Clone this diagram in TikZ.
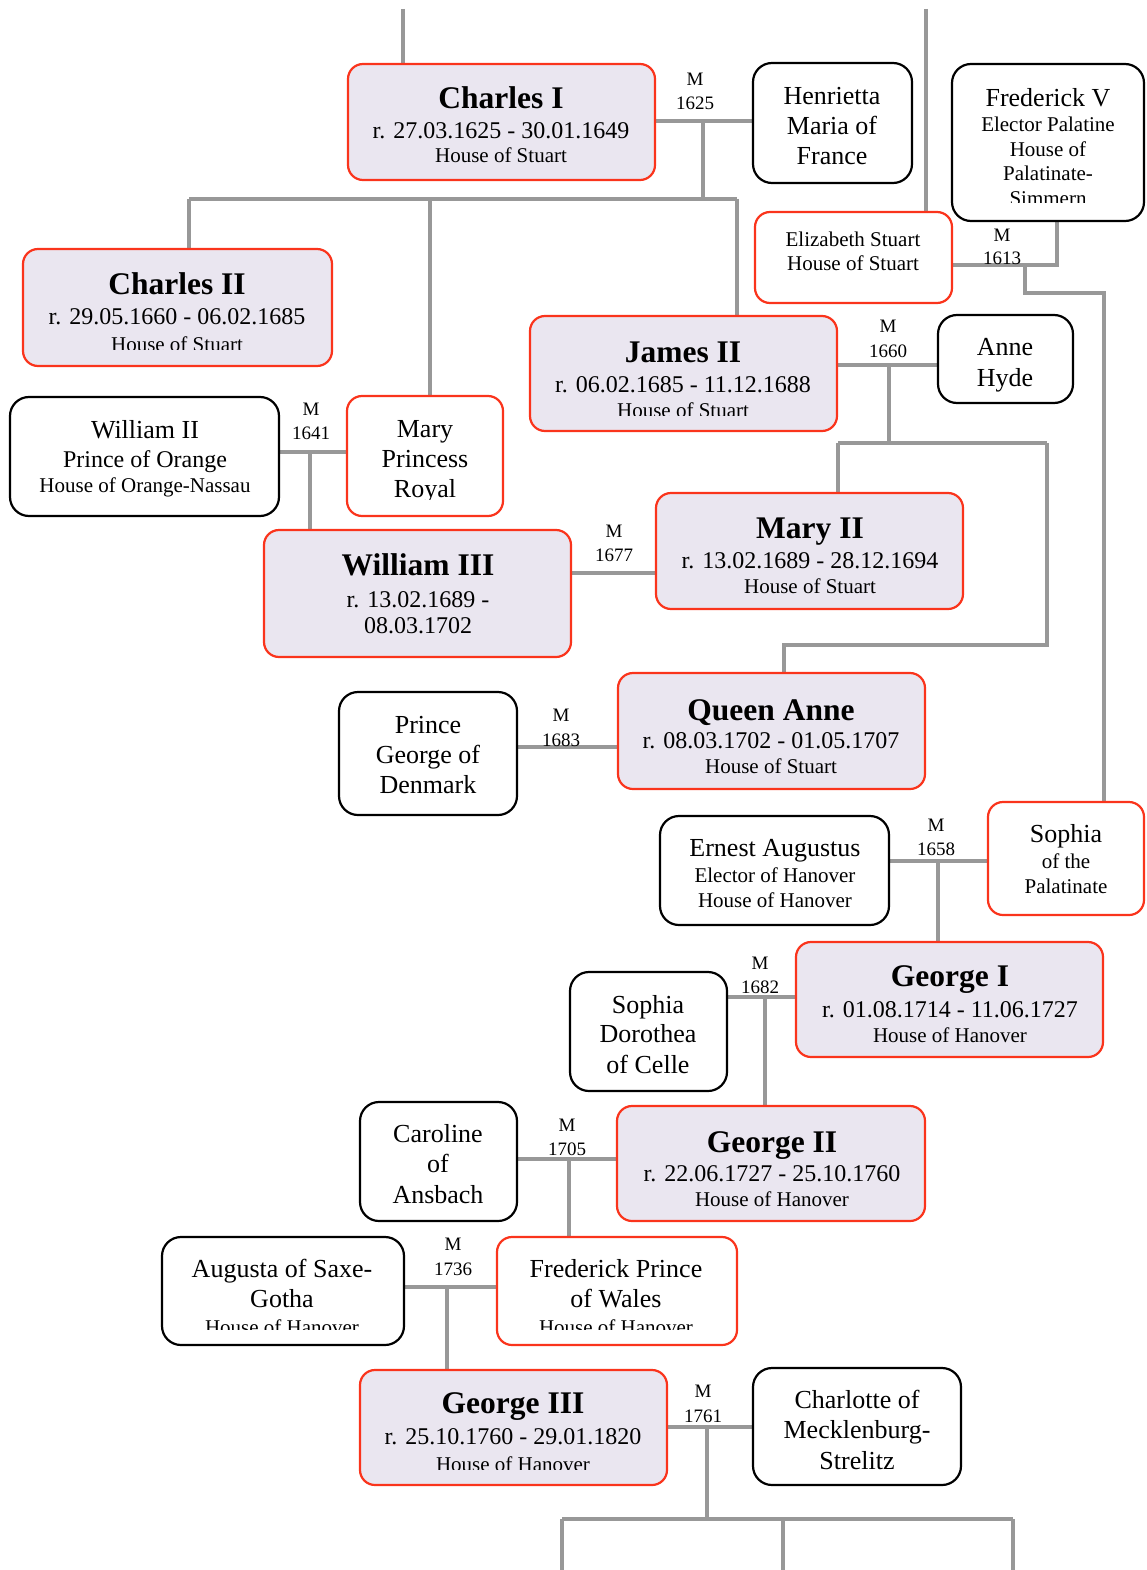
\documentclass[tikz,border=0pt]{standalone}
\usepackage{fontspec}
\setmainfont{Liberation Serif}
\usetikzlibrary{backgrounds}
\definecolor{redc}{RGB}{250,52,28}
\definecolor{lav}{RGB}{234,230,240}
\definecolor{linec}{RGB}{152,152,152}
\newcommand\fname{\fontsize{31.5}{36}\selectfont\bfseries}
\newcommand\fdate{\fontsize{24}{28}\selectfont}
\newcommand\fhouse{\fontsize{21}{25}\selectfont}
\newcommand\fbig{\fontsize{26}{30}\selectfont}
\newcommand\flab{\fontsize{19}{22}\selectfont}
\newcommand\famperson[6]{\node[#2, anchor=north west, minimum width=#5-#3, minimum height=#6-#4] (#1) at (#3,#4) {};}
\newcommand\famtext[3]{\begin{scope}\clip (#1.north west) rectangle (#1.east |- 0,#2); #3 \end{scope}}
\newcommand\tline[5]{\node[txt, font=#4] (#1) at (#2,#3) {#5};}
\tikzset{
  boxbase/.style={line width=2.2pt, inner sep=0pt, outer sep=0pt},
  royal/.style={boxbase, draw=redc, fill=lav, rounded corners=15pt},
  kin/.style={boxbase, draw=redc, fill=white, rounded corners=15pt},
  spouse/.style={boxbase, draw=black, fill=white, rounded corners=19pt},
  marr/.style={draw=linec, line width=3.8pt},
  desc/.style={draw=linec, line width=3.3pt},
  txt/.style={anchor=base, inner sep=0pt, outer sep=0pt, text=black},
}
\begin{document}
\begin{tikzpicture}[x=1pt, y=-1pt]
\useasboundingbox (0,0) rectangle (1146,1570);

% ---------- boxes ----------
\famperson{charlesI}{royal}{348}{64}{655}{180}
\famperson{henrietta}{spouse}{753}{63}{912}{183}
\famperson{frederickV}{spouse}{952}{64}{1144}{221}
\famperson{elizabeth}{kin}{755}{212}{952}{303}
\famperson{charlesII}{royal}{23}{249}{332}{366}
\famperson{jamesII}{royal}{530}{316}{837}{431}
\famperson{anneHyde}{spouse}{938}{315}{1073}{403}
\famperson{williamII}{spouse}{10}{397}{279}{516}
\famperson{maryPR}{kin}{347}{396}{503}{516}
\famperson{williamIII}{royal}{264}{530}{571}{657}
\famperson{maryII}{royal}{656}{493}{963}{609}
\famperson{queenAnne}{royal}{618}{673}{925}{789}
\famperson{princeGeorge}{spouse}{339}{692}{517}{815}
\famperson{ernest}{spouse}{660}{816}{889}{925}
\famperson{sophia}{kin}{988}{802}{1144}{915}
\famperson{georgeI}{royal}{796}{942}{1103}{1057}
\famperson{sophiaDorothea}{spouse}{570}{972}{727}{1091}
\famperson{caroline}{spouse}{360}{1102}{517}{1221}
\famperson{georgeII}{royal}{617}{1106}{925}{1221}
\famperson{augusta}{spouse}{162}{1237}{404}{1345}
\famperson{frederickPW}{kin}{497}{1237}{737}{1345}
\famperson{georgeIII}{royal}{360}{1370}{667}{1485}
\famperson{charlotte}{spouse}{753}{1368}{961}{1485}

% ---------- connector points ----------
\coordinate (top1) at (403,9);
\coordinate (top2) at (926,9);
\coordinate (m1625) at (703,121);
\coordinate (b1625) at (703,199);
\coordinate (b1625l) at (189,199);
\coordinate (b1625m) at (430,199);
\coordinate (b1625r) at (737,199);
\coordinate (m1613) at (1057,265);
\coordinate (d1613a) at (1025,265);
\coordinate (d1613b) at (1025,293);
\coordinate (d1613c) at (1104,293);
\coordinate (m1660) at (889,365);
\coordinate (b1660) at (889,443);
\coordinate (b1660l) at (838,443);
\coordinate (b1660r) at (1047,443);
\coordinate (b1660d) at (1047,645);
\coordinate (b1660e) at (784,645);
\coordinate (m1641) at (310,452);
\coordinate (m1677) at (613,573);
\coordinate (m1683) at (567,747);
\coordinate (m1658) at (938,861);
\coordinate (m1682) at (765,997);
\coordinate (m1705) at (569,1159);
\coordinate (m1736) at (447,1287);
\coordinate (m1761) at (707,1427);
\coordinate (b1761) at (707,1519);
\coordinate (b1761l) at (562,1519);
\coordinate (b1761m) at (783,1519);
\coordinate (b1761r) at (1013,1519);
\coordinate (e1) at (562,1570);
\coordinate (e2) at (783,1570);
\coordinate (e3) at (1013,1570);

% ---------- connectors (behind boxes) ----------
\begin{pgfonlayer}{background}
\path[desc] (top1) -- (charlesI.north -| top1);
\path[desc] (top2) -- (elizabeth.north -| top2);
\path[marr] (charlesI.east |- m1625) -- (henrietta.west |- m1625);
\path[desc] (m1625) -- (b1625);
\path[desc] (b1625l) -- (b1625r);
\path[desc] (b1625l) -- (charlesII.north -| b1625l);
\path[desc] (b1625m) -- (maryPR.north -| b1625m);
\path[desc] (b1625r) -- (jamesII.north -| b1625r);
\path[marr] (elizabeth.east |- m1613) -- (m1613) -- (frederickV.south -| m1613);
\path[desc] (d1613a) -- (d1613b) -- (d1613c) -- (sophia.north -| d1613c);
\path[marr] (jamesII.east |- m1660) -- (anneHyde.west |- m1660);
\path[desc] (m1660) -- (b1660);
\path[desc] (b1660l) -- (b1660r);
\path[desc] (b1660l) -- (maryII.north -| b1660l);
\path[desc] (b1660r) -- (b1660d) -- (b1660e) -- (queenAnne.north -| b1660e);
\path[marr] (williamII.east |- m1641) -- (maryPR.west |- m1641);
\path[desc] (m1641) -- (williamIII.north -| m1641);
\path[marr] (williamIII.east |- m1677) -- (maryII.west |- m1677);
\path[marr] (princeGeorge.east |- m1683) -- (queenAnne.west |- m1683);
\path[marr] (ernest.east |- m1658) -- (sophia.west |- m1658);
\path[desc] (m1658) -- (georgeI.north -| m1658);
\path[marr] (sophiaDorothea.east |- m1682) -- (georgeI.west |- m1682);
\path[desc] (m1682) -- (georgeII.north -| m1682);
\path[marr] (caroline.east |- m1705) -- (georgeII.west |- m1705);
\path[desc] (m1705) -- (frederickPW.north -| m1705);
\path[marr] (augusta.east |- m1736) -- (frederickPW.west |- m1736);
\path[desc] (m1736) -- (georgeIII.north -| m1736);
\path[marr] (georgeIII.east |- m1761) -- (charlotte.west |- m1761);
\path[desc] (m1761) -- (b1761);
\path[desc] (b1761l) -- (b1761r);
\path[desc] (b1761l) -- (e1);
\path[desc] (b1761m) -- (e2);
\path[desc] (b1761r) -- (e3);
\end{pgfonlayer}

% ---------- texts ----------
\famtext{charlesI}{180}{
 \tline{t1a}{501}{109}{\fname}{Charles I}
 \tline{t1b}{501}{139}{\fdate}{r. 27.03.1625 - 30.01.1649}
 \tline{t1c}{501}{163}{\fhouse}{House of Stuart}}
\famtext{henrietta}{183}{
 \tline{t2a}{832}{105}{\fbig}{Henrietta}
 \tline{t2b}{832}{135}{\fbig}{Maria of}
 \tline{t2c}{832}{165}{\fbig}{France}}
\famtext{frederickV}{203}{
 \tline{t3a}{1048}{107}{\fbig}{Frederick V}
 \tline{t3b}{1048}{132}{\fhouse}{Elector Palatine}
 \tline{t3c}{1048}{157}{\fhouse}{House of}
 \tline{t3d}{1048}{181}{\fhouse}{Palatinate-}
 \tline{t3e}{1048}{206}{\fhouse}{Simmern}}
\famtext{elizabeth}{303}{
 \tline{t4a}{853}{247}{\fhouse}{Elizabeth Stuart}
 \tline{t4b}{853}{270}{\fhouse}{House of Stuart}}
\famtext{charlesII}{349}{
 \tline{t5a}{177}{294}{\fname}{Charles II}
 \tline{t5b}{177}{324}{\fdate}{r. 29.05.1660 - 06.02.1685}
 \tline{t5c}{177}{351}{\fhouse}{House of Stuart}}
\famtext{jamesII}{415}{
 \tline{t6a}{683}{362}{\fname}{James II}
 \tline{t6b}{683}{392}{\fdate}{r. 06.02.1685 - 11.12.1688}
 \tline{t6c}{683}{417}{\fhouse}{House of Stuart}}
\famtext{anneHyde}{403}{
 \tline{t7a}{1005}{355}{\fbig}{Anne}
 \tline{t7b}{1005}{386}{\fbig}{Hyde}}
\famtext{williamII}{516}{
 \tline{t8a}{145}{438}{\fbig}{William II}
 \tline{t8b}{145}{467}{\fdate}{Prince of Orange}
 \tline{t8c}{145}{492}{\fhouse}{House of Orange-Nassau}}
\famtext{maryPR}{499}{
 \tline{t9a}{425}{437}{\fbig}{Mary}
 \tline{t9b}{425}{467}{\fbig}{Princess}
 \tline{t9c}{425}{497}{\fbig}{Royal}}
\famtext{williamIII}{657}{
 \tline{t10a}{418}{575}{\fname}{William III}
 \tline{t10b}{418}{607}{\fdate}{r. 13.02.1689 -}
 \tline{t10c}{418}{633}{\fdate}{08.03.1702}}
\famtext{maryII}{609}{
 \tline{t11a}{810}{538}{\fname}{Mary II}
 \tline{t11b}{810}{568}{\fdate}{r. 13.02.1689 - 28.12.1694}
 \tline{t11c}{810}{593}{\fhouse}{House of Stuart}}
\famtext{queenAnne}{789}{
 \tline{t12a}{771}{720}{\fname}{Queen Anne}
 \tline{t12b}{771}{748}{\fdate}{r. 08.03.1702 - 01.05.1707}
 \tline{t12c}{771}{773}{\fhouse}{House of Stuart}}
\famtext{princeGeorge}{815}{
 \tline{t13a}{428}{733}{\fbig}{Prince}
 \tline{t13b}{428}{763}{\fbig}{George of}
 \tline{t13c}{428}{793}{\fbig}{Denmark}}
\famtext{ernest}{925}{
 \tline{t14a}{775}{856}{\fbig}{Ernest Augustus}
 \tline{t14b}{775}{882}{\fhouse}{Elector of Hanover}
 \tline{t14c}{775}{907}{\fhouse}{House of Hanover}}
\famtext{sophia}{915}{
 \tline{t15a}{1066}{842}{\fbig}{Sophia}
 \tline{t15b}{1066}{868}{\fhouse}{of the}
 \tline{t15c}{1066}{893}{\fhouse}{Palatinate}}
\famtext{georgeI}{1057}{
 \tline{t16a}{950}{986}{\fname}{George I}
 \tline{t16b}{950}{1017}{\fdate}{r. 01.08.1714 - 11.06.1727}
 \tline{t16c}{950}{1042}{\fhouse}{House of Hanover}}
\famtext{sophiaDorothea}{1091}{
 \tline{t17a}{648}{1013}{\fbig}{Sophia}
 \tline{t17b}{648}{1042}{\fbig}{Dorothea}
 \tline{t17c}{648}{1073}{\fbig}{of Celle}}
\famtext{caroline}{1221}{
 \tline{t18a}{438}{1142}{\fbig}{Caroline}
 \tline{t18b}{438}{1172}{\fbig}{of}
 \tline{t18c}{438}{1203}{\fbig}{Ansbach}}
\famtext{georgeII}{1221}{
 \tline{t19a}{772}{1152}{\fname}{George II}
 \tline{t19b}{772}{1181}{\fdate}{r. 22.06.1727 - 25.10.1760}
 \tline{t19c}{772}{1206}{\fhouse}{House of Hanover}}
\famtext{augusta}{1329}{
 \tline{t20a}{282}{1277}{\fbig}{Augusta of Saxe-}
 \tline{t20b}{282}{1307}{\fbig}{Gotha}
 \tline{t20c}{282}{1334}{\fhouse}{House of Hanover}}
\famtext{frederickPW}{1329}{
 \tline{t21a}{616}{1277}{\fbig}{Frederick Prince}
 \tline{t21b}{616}{1307}{\fbig}{of Wales}
 \tline{t21c}{616}{1334}{\fhouse}{House of Hanover}}
\famtext{georgeIII}{1469}{
 \tline{t22a}{513}{1413}{\fname}{George III}
 \tline{t22b}{513}{1444}{\fdate}{r. 25.10.1760 - 29.01.1820}
 \tline{t22c}{513}{1471}{\fhouse}{House of Hanover}}
\famtext{charlotte}{1485}{
 \tline{t23a}{857}{1408}{\fbig}{Charlotte of}
 \tline{t23b}{857}{1438}{\fbig}{Mecklenburg-}
 \tline{t23c}{857}{1469}{\fbig}{Strelitz}}

% ---------- marriage labels ----------
\tline{l1625m}{695}{86}{\flab}{M}   \tline{l1625y}{695}{110}{\flab}{1625}
\tline{l1613m}{1002}{241}{\flab}{M} \tline{l1613y}{1002}{265}{\flab}{1613}
\tline{l1660m}{888}{332}{\flab}{M}  \tline{l1660y}{888}{357}{\flab}{1660}
\tline{l1641m}{311}{415}{\flab}{M}  \tline{l1641y}{311}{439}{\flab}{1641}
\tline{l1677m}{614}{537}{\flab}{M}  \tline{l1677y}{614}{561}{\flab}{1677}
\tline{l1683m}{561}{721}{\flab}{M}  \tline{l1683y}{561}{746}{\flab}{1683}
\tline{l1658m}{936}{831}{\flab}{M}  \tline{l1658y}{936}{855}{\flab}{1658}
\tline{l1682m}{760}{969}{\flab}{M}  \tline{l1682y}{760}{993}{\flab}{1682}
\tline{l1705m}{567}{1131}{\flab}{M} \tline{l1705y}{567}{1155}{\flab}{1705}
\tline{l1736m}{453}{1250}{\flab}{M} \tline{l1736y}{453}{1275}{\flab}{1736}
\tline{l1761m}{703}{1397}{\flab}{M} \tline{l1761y}{703}{1422}{\flab}{1761}
\end{tikzpicture}
\end{document}
